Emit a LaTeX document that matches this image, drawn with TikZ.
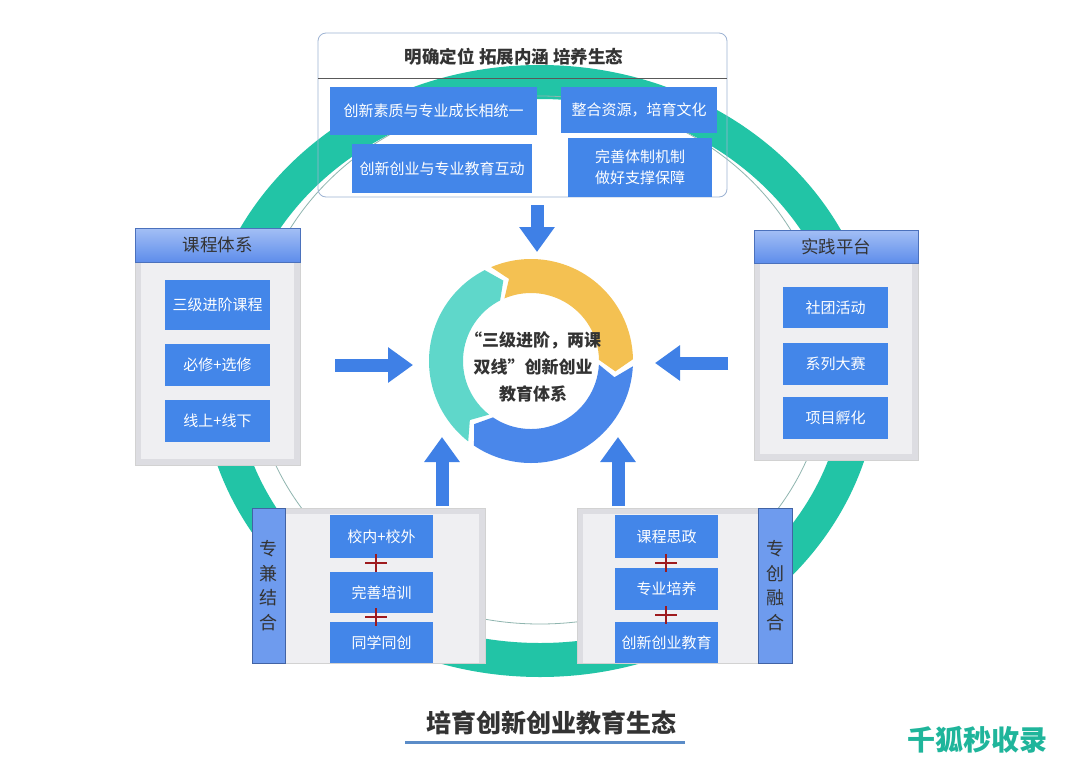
\documentclass[tikz,border=0pt]{standalone}
\usepackage{fontspec}
\setmainfont{Noto Sans CJK SC}
\usetikzlibrary{arrows.meta}
\definecolor{boxblue}{HTML}{4386E9}
\definecolor{arrowblue}{HTML}{3F80E6}
\definecolor{ringteal}{HTML}{22C4A6}
\definecolor{thinring}{HTML}{8FB5AF}
\definecolor{dteal}{HTML}{5FD7CA}
\definecolor{dyellow}{HTML}{F4C152}
\definecolor{dblue}{HTML}{4A87EA}
\definecolor{frameblue}{HTML}{9DB3D3}
\definecolor{panelout}{HTML}{DDDDE2}
\definecolor{panelin}{HTML}{EFEFF2}
\definecolor{hdtop}{HTML}{A3BFF5}
\definecolor{hdbot}{HTML}{5E8DEB}
\definecolor{barblue}{HTML}{6E9BEE}
\definecolor{plusred}{HTML}{9E1A1E}
\definecolor{darktext}{HTML}{333333}
\definecolor{ulblue}{HTML}{5B8CC8}
\definecolor{wmteal}{HTML}{1FB59B}
\begin{document}
\begin{tikzpicture}[x=1pt,y=1pt,yscale=-1,
  bluebox/.style={fill=boxblue, text=white, inner sep=0pt, align=center, font=\fontsize{15}{20}\selectfont},
  panel/.style={fill=panelout, draw=gray!35, line width=0.6pt, inner sep=0pt},
  header/.style={top color=hdtop, bottom color=hdbot, draw=hdbot!80!black, line width=0.5pt, inner sep=0pt, text=darktext, font=\fontsize{17.5}{20}\selectfont},
  sidebar/.style={fill=barblue, draw=hdbot!70!black, line width=0.5pt, inner sep=0pt, text=darktext, align=center, font=\fontsize{18}{24.5}\selectfont},
  bigarrow/.style={line width=13pt, draw=arrowblue, -{Triangle[length=25pt,width=34pt]}},
  plusmark/.style={draw=plusred, line width=1.8pt},
]
\useasboundingbox (0,0) rectangle (1080,764);
\fill[white] (0,0) rectangle (1080,764);

% big ring
\fill[ringteal, even odd rule] (540,371) ellipse[x radius=339, y radius=306]
                               (540,371) ellipse[x radius=305, y radius=272];
\draw[thinring, line width=0.8pt] (540,360) ellipse[x radius=288, y radius=264];

% top frame
\node[draw=frameblue, line width=0.8pt, rounded corners=8pt, minimum width=409, minimum height=164, inner sep=0pt] (top) at (522.5,115) {};
\coordinate (topL) at (318,78);
\coordinate (topR) at (727,78);
\draw[gray!70!black, line width=0.6pt] (topL) -- (topR);
\node[font=\bfseries\fontsize{17.5}{20}\selectfont, text=darktext] (toptitle) at (514,57) {明确定位\ 拓展内涵\ 培养生态};
\node[bluebox, minimum width=207, minimum height=48] (t1) at (433.5,111) {创新素质与专业成长相统一};
\node[bluebox, minimum width=156, minimum height=46] (t2) at (639,110) {整合资源，培育文化};
\node[bluebox, minimum width=180, minimum height=49] (t3) at (442,168.5) {创新创业与专业教育互动};
\node[bluebox, minimum width=144, minimum height=59, font=\fontsize{15}{21}\selectfont] (t4) at (640,167.5) {完善体制机制\\做好支撑保障};

% left panel
\node[panel, minimum width=165, minimum height=237] (L) at (217.5,346.5) {};
\fill[panelin] (141,262) rectangle (294,459);
\node[header, minimum width=165, minimum height=34] (Lh) at (217.5,245) {课程体系};
\node[bluebox, minimum width=105, minimum height=50] (L1) at (217.5,305) {三级进阶课程};
\node[bluebox, minimum width=105, minimum height=42] (L2) at (217.5,365) {必修+选修};
\node[bluebox, minimum width=105, minimum height=42] (L3) at (217.5,421) {线上+线下};

% right panel
\node[panel, minimum width=164, minimum height=230] (R) at (836,345) {};
\fill[panelin] (760,263) rectangle (912,454);
\node[header, minimum width=164, minimum height=33] (Rh) at (836,246.5) {实践平台};
\node[bluebox, minimum width=105, minimum height=41] (R1) at (835.5,307.5) {社团活动};
\node[bluebox, minimum width=105, minimum height=42] (R2) at (835.5,364) {系列大赛};
\node[bluebox, minimum width=105, minimum height=42] (R3) at (835.5,418) {项目孵化};

% bottom left panel
\node[panel, minimum width=233, minimum height=155] (BL) at (368.5,585.5) {};
\fill[panelin] (285,514) rectangle (479,663);
\node[sidebar, minimum width=33, minimum height=155] (BLb) at (268.5,585.5) {专\\兼\\结\\合};
\node[bluebox, minimum width=103, minimum height=43] (B1) at (381.5,536.5) {校内+校外};
\node[bluebox, minimum width=103, minimum height=41] (B2) at (381.5,592.5) {完善培训};
\node[bluebox, minimum width=103, minimum height=41] (B3) at (381.5,642.5) {同学同创};
\coordinate (p1) at (376,563);
\coordinate (p2) at (376,617);
\draw[plusmark] ([xshift=-11]p1) -- ([xshift=11]p1) ([yshift=-9]p1) -- ([yshift=9]p1);
\draw[plusmark] ([xshift=-11]p2) -- ([xshift=11]p2) ([yshift=-9]p2) -- ([yshift=9]p2);

% bottom right panel
\node[panel, minimum width=215, minimum height=155] (BR) at (684.5,585.5) {};
\fill[panelin] (583,514) rectangle (758,663);
\node[sidebar, minimum width=34, minimum height=155] (BRb) at (775,585.5) {专\\创\\融\\合};
\node[bluebox, minimum width=103, minimum height=43] (C1) at (666.5,536.5) {课程思政};
\node[bluebox, minimum width=103, minimum height=42] (C2) at (666.5,589) {专业培养};
\node[bluebox, minimum width=103, minimum height=41] (C3) at (666.5,642.5) {创新创业教育};
\coordinate (q1) at (666,563);
\coordinate (q2) at (666,615);
\draw[plusmark] ([xshift=-11]q1) -- ([xshift=11]q1) ([yshift=-9]q1) -- ([yshift=9]q1);
\draw[plusmark] ([xshift=-11]q2) -- ([xshift=11]q2) ([yshift=-9]q2) -- ([yshift=9]q2);

% donut
\begin{scope}[shift={(531,361)}]
  \fill[dteal] (128:102) arc[start angle=128, end angle=243, radius=102] -- (251:85) -- (243:68)
     arc[start angle=243, end angle=128, radius=68] -- (136:85) -- cycle;
  \fill[dyellow] (247:102) arc[start angle=247, end angle=359, radius=102] -- (367:85) -- (359:68)
     arc[start angle=359, end angle=247, radius=68] -- (255:85) -- cycle;
  \fill[dblue] (363:102) arc[start angle=363, end angle=484, radius=102] -- (492:85) -- (484:68)
     arc[start angle=484, end angle=363, radius=68] -- (371:85) -- cycle;
\end{scope}
\node[font=\bfseries\fontsize{17}{27}\selectfont, text=darktext, align=center] (core) at (533,367) {“三级进阶，两课\\双线”创新创业\\教育体系};

% arrows
\coordinate (aT1) at (537,205);  \coordinate (aT2) at (537,252);
\coordinate (aL1) at (335,365);  \coordinate (aL2) at (413,365);
\coordinate (aR1) at (728,363);  \coordinate (aR2) at (655,363);
\coordinate (aB1) at (442,506);  \coordinate (aB2) at (442,437);
\coordinate (aC1) at (618,506);  \coordinate (aC2) at (618,437);
\draw[bigarrow] (aT1) -- (aT2);
\draw[bigarrow] (aL1) -- (aL2);
\draw[bigarrow] (aR1) -- (aR2);
\draw[bigarrow] (aB1) -- (aB2);
\draw[bigarrow] (aC1) -- (aC2);

% bottom title
\node[font=\bfseries\fontsize{25}{28}\selectfont, text=darktext] (title) at (551,723) {培育创新创业教育生态};
\coordinate (u1) at (405,742);
\coordinate (u2) at (685,742);
\draw[ulblue, line width=3pt] (u1) -- (u2);

% watermark
\node[font=\bfseries\fontsize{28}{30}\selectfont, text=wmteal] (wm) at (977,740) {千狐秒收录};
\end{tikzpicture}
\end{document}
